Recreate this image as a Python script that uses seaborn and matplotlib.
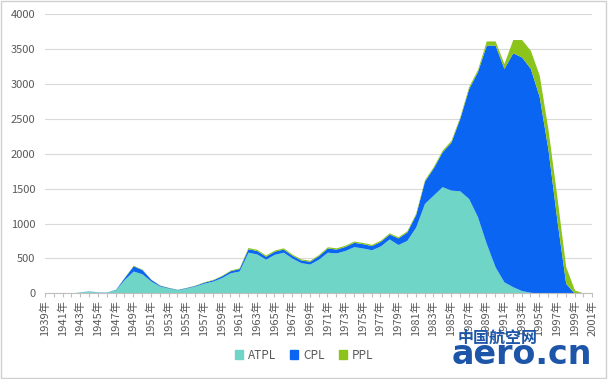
import matplotlib
matplotlib.use("Agg")
import matplotlib.pyplot as plt
import seaborn as sns
import pandas as pd
from matplotlib.patches import Rectangle

sns.set_theme(style="white")
plt.rcParams["font.family"] = ["Noto Sans CJK SC", "DejaVu Sans"]

# --- Data ---
years = list(range(1939, 2002))
atpl = [0, 0, 0, 5, 20, 32, 20, 18, 52, 200,
        320, 280, 175, 105, 75, 50, 75, 105, 145, 175,
        225, 295, 320, 590, 565, 490, 560, 590, 505, 440,
        420, 490, 590, 580, 615, 670, 650, 625, 680, 780,
        700, 760, 950, 1290, 1410, 1530, 1480, 1470, 1360, 1100,
        715, 380, 165, 95, 40, 15, 5, 0, 0, 0,
        0, 0, 0]
cpl = [0, 0, 0, 0, 2, 3, 2, 2, 6, 30,
       75, 60, 25, 12, 8, 6, 8, 10, 15, 18,
       25, 30, 35, 50, 48, 42, 45, 45, 40, 38,
       40, 52, 60, 55, 58, 62, 62, 60, 65, 70,
       95, 120, 180, 320, 390, 500, 690, 1040, 1575, 2080,
       2845, 3180, 3060, 3355, 3350, 3210, 2815, 2055, 1050, 143,
       0, 0, 0]
ppl = [0, 0, 0, 0, 0, 0, 0, 0, 2, 5,
       8, 6, 4, 3, 3, 2, 3, 4, 6, 7,
       8, 10, 12, 18, 18, 17, 17, 18, 18, 16,
       15, 16, 18, 18, 18, 18, 18, 18, 18, 18,
       17, 18, 20, 20, 20, 25, 25, 25, 30, 30,
       60, 60, 70, 190, 250, 260, 310, 290, 335, 240,
       47, 5, 0]
series_names = ["ATPL", "CPL", "PPL"]
colors = ["#6fd5c6", "#0a66f2", "#8dc41c"]

df = pd.DataFrame({"year": years, "ATPL": atpl, "CPL": cpl, "PPL": ppl})
long = df.melt(id_vars="year", var_name="type", value_name="count")

fig = plt.figure(figsize=(6.08, 3.79), dpi=100)
ax = fig.add_axes([0.074, 0.226, 0.9, 0.736])

# stacked area: histplot with one bin per year, poly element, stacked
sns.histplot(data=long, x="year", weights="count", hue="type",
             hue_order=series_names[::-1], palette=colors[::-1],
             discrete=True, multiple="stack", element="poly",
             fill=True, alpha=1, linewidth=0, legend=False, ax=ax)

ax.set_xlim(1939, 2001)
ax.set_ylim(0, 4000)
ax.set_yticks(range(0, 4001, 500))
ax.set_xticks(years[::2])
ax.set_xticks(years, minor=True)
ax.set_xticklabels([f"{y}年" for y in years[::2]], rotation=90)
ax.set_xlabel("")
ax.set_ylabel("")

ax.yaxis.grid(True, color="#d9d9d9", linewidth=0.8)
ax.set_axisbelow(True)
for s in ["top", "right", "left"]:
    ax.spines[s].set_visible(False)
ax.spines["bottom"].set_color("#bfbfbf")
ax.spines["bottom"].set_linewidth(0.8)
ax.tick_params(axis="y", length=0, pad=7, labelsize=8, labelcolor="#595959")
ax.tick_params(axis="x", which="both", direction="out", length=3, width=0.8,
               color="#bfbfbf", bottom=True, pad=2, labelsize=8,
               labelcolor="#595959")

handles = [Rectangle((0, 0), 1, 1, color=c) for c in colors]
fig.legend(handles, series_names, loc="center", bbox_to_anchor=(0.5, 0.063),
           ncol=3, frameon=False, fontsize=8.5, handlelength=0.7,
           handleheight=0.7, handletextpad=0.4, columnspacing=1.2,
           labelcolor="#595959")

# watermark at the bottom right
fig.text(0.752, 0.088, "中国航空网", fontsize=11.5, fontweight="bold",
         color="#1d56a8", ha="left", va="bottom")
fig.text(0.742, 0.022, "aero.cn", fontsize=24, fontweight="bold",
         color="#1d56a8", ha="left", va="bottom", family="DejaVu Sans")

fig.patches.append(Rectangle((0.002, 0.003), 0.995, 0.994, transform=fig.transFigure,
                             fill=False, edgecolor="#d0d0d0", linewidth=1))

fig.savefig("out.png", dpi=100)
